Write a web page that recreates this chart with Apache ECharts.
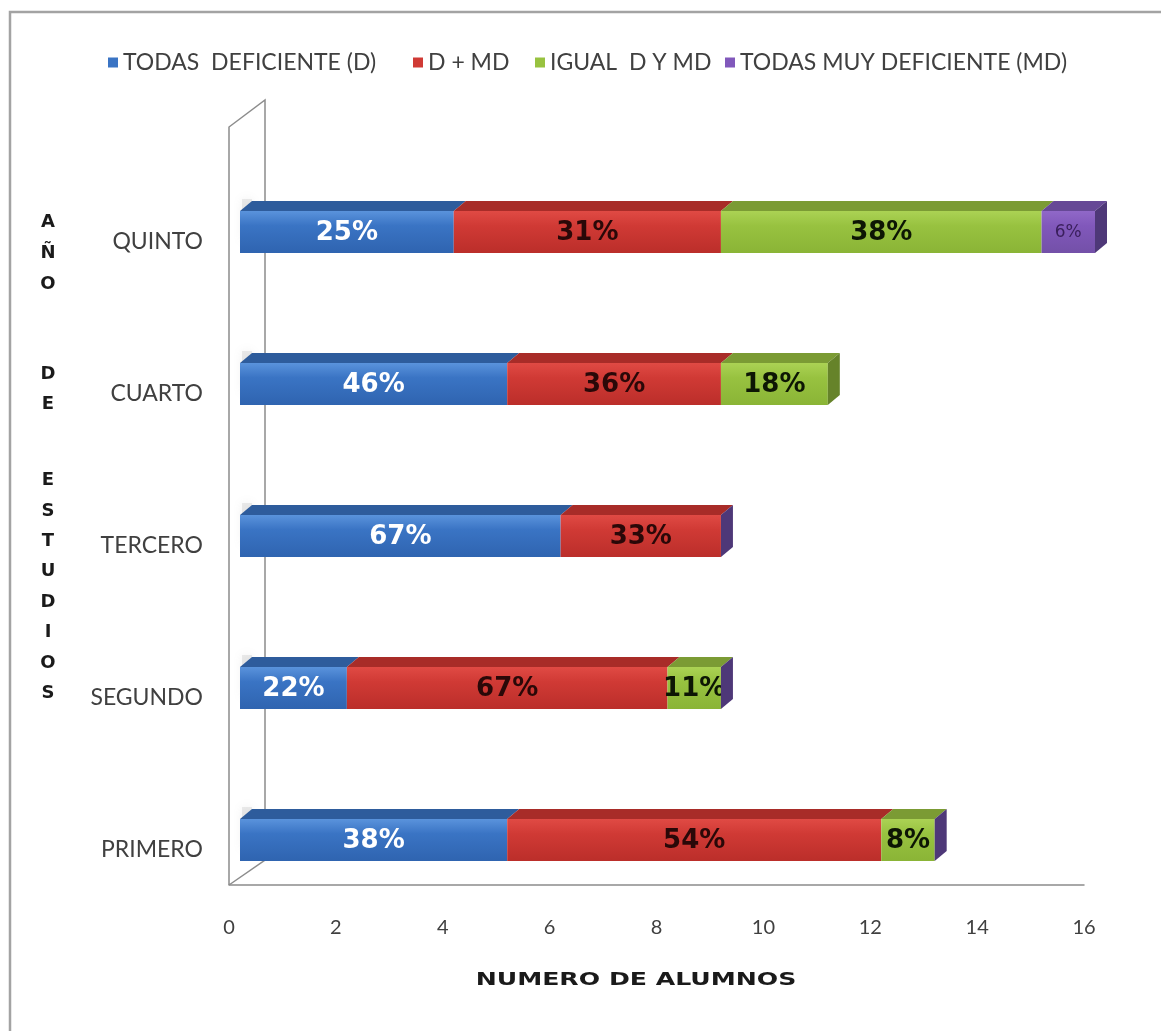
<!DOCTYPE html>
<html>
<head>
<meta charset="utf-8">
<script src="https://cdn.jsdelivr.net/npm/echarts@6/dist/echarts.min.js"></script>
<style>
  html, body { margin: 0; padding: 0; background: #ffffff; }
  #chart { width: 1161px; height: 1031px; }
</style>
</head>
<body>
<div id="chart"></div>
<script>
// Years of study (bottom to top) and number of students per rating group
const categories = ['PRIMERO', 'SEGUNDO', 'TERCERO', 'CUARTO', 'QUINTO'];
const seriesNames = ['TODAS  DEFICIENTE (D)', 'D + MD', 'IGUAL  D Y MD', 'TODAS MUY DEFICIENTE (MD)'];

const todasDeficiente    = [5, 2, 6, 5, 4];
const dMasMd             = [7, 6, 3, 4, 5];
const igualDyMd          = [1, 1, 0, 2, 6];
const todasMuyDeficiente = [0, 0, 0, null, 1];

// Share of each group within its year, as printed on the bars
const pctTodasDeficiente    = ['38%', '22%', '67%', '46%', '25%'];
const pctDMasMd             = ['54%', '67%', '33%', '36%', '31%'];
const pctIgualDyMd          = ['8%', '11%', '', '18%', '38%'];
const pctTodasMuyDeficiente = ['', '', '', '', '6%'];

// Value axis ticks
const xMin = 0, xMax = 16, xInterval = 2;

const values = [todasDeficiente, dMasMd, igualDyMd, todasMuyDeficiente];
const pcts = [pctTodasDeficiente, pctDMasMd, pctIgualDyMd, pctTodasMuyDeficiente];

// Face colours: front gradient, top face, end face, label style
const palette = [
  { base: '#3a74c4', front: ['#5a93dc', '#2f64b0'], top: '#2e5c9c', side: '#234a82', label: '#ffffff', size: 26, weight: 'bold' },
  { base: '#d03a35', front: ['#e04a44', '#bb2e2a'], top: '#a82c28', side: '#86201d', label: '#2a0808', size: 26, weight: 'bold' },
  { base: '#98c240', front: ['#abd254', '#8ab436'], top: '#7b9b34', side: '#66832a', label: '#0d1604', size: 26, weight: 'bold' },
  { base: '#8158bb', front: ['#9068c8', '#7350a8'], top: '#664896', side: '#4e3878', label: '#3a1f5c', size: 17, weight: 'normal' }
];

// 3D depth of the bars and their shift behind the floor's front edge
const DEPTH_X = 12, DEPTH_Y = -10;
const SHIFT_X = 11, SHIFT_Y = -10;
const FACE_H = 42;

// Cumulative start/end of every segment, plus which segment closes each bar
const lastIdx = categories.map((_, c) => {
  let last = -1;
  values.forEach((arr, s) => { if (arr[c] !== null && arr[c] !== undefined) last = s; });
  return last;
});
const segData = values.map((arr, s) => {
  const out = [];
  categories.forEach((_, c) => {
    const v = arr[c];
    if (v === null || v === undefined) return;
    let start = 0;
    for (let k = 0; k < s; k++) { const pv = values[k][c]; if (pv) start += pv; }
    out.push([c, start, start + v, lastIdx[c] === s ? 1 : 0, pcts[s][c]]);
  });
  return out;
});

function makeRender(s) {
  const col = palette[s];
  return function (params, api) {
    const cat = api.value(0);
    const p0 = api.coord([api.value(1), cat]);
    const p1 = api.coord([api.value(2), cat]);
    const isLast = api.value(3) === 1;
    const txt = segData[s][params.dataIndex][4];
    const x0 = p0[0] + SHIFT_X, x1 = p1[0] + SHIFT_X;
    const yc = p0[1] + SHIFT_Y;
    const top = yc - FACE_H / 2, bot = yc + FACE_H / 2;
    const children = [];
    if (s === 0) {
      // soft shadow cast on the side wall
      children.push({
        type: 'rect',
        shape: { x: x0 + 2, y: top - 12, width: 10, height: FACE_H },
        style: { fill: 'rgba(170,170,170,0.22)', shadowBlur: 10, shadowColor: 'rgba(130,130,130,0.55)' },
        z2: 0
      });
    }
    children.push({
      type: 'polygon',
      shape: { points: [[x0, top], [x0 + DEPTH_X, top + DEPTH_Y], [x1 + DEPTH_X, top + DEPTH_Y], [x1, top]] },
      style: { fill: col.top },
      z2: 1
    });
    children.push({
      type: 'rect',
      shape: { x: x0, y: top, width: Math.max(0, x1 - x0), height: FACE_H },
      style: {
        fill: new echarts.graphic.LinearGradient(0, 0, 0, 1, [
          { offset: 0, color: col.front[0] },
          { offset: 0.35, color: col.base },
          { offset: 1, color: col.front[1] }
        ])
      },
      z2: 2
    });
    if (isLast) {
      children.push({
        type: 'polygon',
        shape: { points: [[x1, top], [x1 + DEPTH_X, top + DEPTH_Y], [x1 + DEPTH_X, bot + DEPTH_Y], [x1, bot]] },
        style: { fill: col.side },
        z2: 3
      });
    }
    if (txt) {
      children.push({
        type: 'text',
        x: (x0 + x1) / 2,
        y: yc + 1,
        style: {
          text: txt,
          fill: col.label,
          font: col.weight + ' ' + col.size + 'px "DejaVu Sans", sans-serif',
          align: 'center',
          verticalAlign: 'middle'
        },
        z2: 10
      });
    }
    return { type: 'group', children: children };
  };
}

const series = seriesNames.map((name, s) => ({
  type: 'custom',
  name: name,
  renderItem: makeRender(s),
  encode: { x: [1, 2], y: 0 },
  itemStyle: { color: palette[s].base },
  data: segData[s],
  z: 2 + s
}));

// One legend block per group, spread along the top
const legendLefts = [103, 408, 530, 720];
const legends = seriesNames.map((name, i) => ({
  top: 46,
  left: legendLefts[i],
  icon: 'rect',
  itemWidth: 10,
  itemHeight: 10,
  textStyle: { fontFamily: 'Lato', fontSize: 23, color: '#404040' },
  data: [name]
}));

// Vertical axis title, one letter per line
const titleLetters = [
  ['A', 222], ['Ñ', 253], ['O', 284],
  ['D', 374], ['E', 404],
  ['E', 480], ['S', 511], ['T', 541], ['U', 571], ['D', 602], ['I', 632], ['O', 663], ['S', 693]
];

const graphics = [
  {
    type: 'rect', z: 0, silent: true,
    shape: { x: 10, y: 12, width: 1200, height: 1100 },
    style: { fill: 'none', stroke: '#a3a3a3', lineWidth: 2.5 }
  },
  {
    type: 'polyline', z: 0, silent: true,
    shape: { points: [[229, 885], [229, 127], [265, 100], [265, 860], [229, 885]] },
    style: { fill: 'none', stroke: '#8c8c8c', lineWidth: 1.5 }
  },
  {
    type: 'text', z: 50, x: 636, y: 981, scaleX: 1.48,
    style: {
      text: 'NUMERO DE ALUMNOS', fill: '#1a1a1a',
      font: 'bold 17px "DejaVu Sans", sans-serif', align: 'center', verticalAlign: 'middle'
    }
  }
].concat(titleLetters.map(([ch, y]) => ({
  type: 'text', z: 50, x: 48, y: y,
  style: {
    text: ch, fill: '#1a1a1a',
    font: 'bold 18px "DejaVu Sans", sans-serif', align: 'center', verticalAlign: 'middle'
  }
})));

const chart = echarts.init(document.getElementById('chart'), null, { renderer: 'canvas' });
chart.setOption({
  backgroundColor: '#ffffff',
  animation: false,
  legend: legends,
  grid: { left: 229, right: 77, top: 166, bottom: 105, containLabel: false },
  xAxis: {
    type: 'value',
    min: xMin, max: xMax, interval: xInterval,
    offset: -41,
    axisLine: { show: true, lineStyle: { color: '#8c8c8c', width: 1.5 } },
    axisTick: { show: false },
    splitLine: { show: false },
    axisLabel: { margin: 33, fontFamily: 'Lato', fontSize: 20, color: '#404040' }
  },
  yAxis: {
    type: 'category',
    data: categories,
    axisLine: { show: false },
    axisTick: { show: false },
    splitLine: { show: false },
    axisLabel: { margin: 26, fontFamily: 'Lato', fontSize: 23, color: '#404040' }
  },
  graphic: graphics,
  series: series
});
</script>
</body>
</html>
